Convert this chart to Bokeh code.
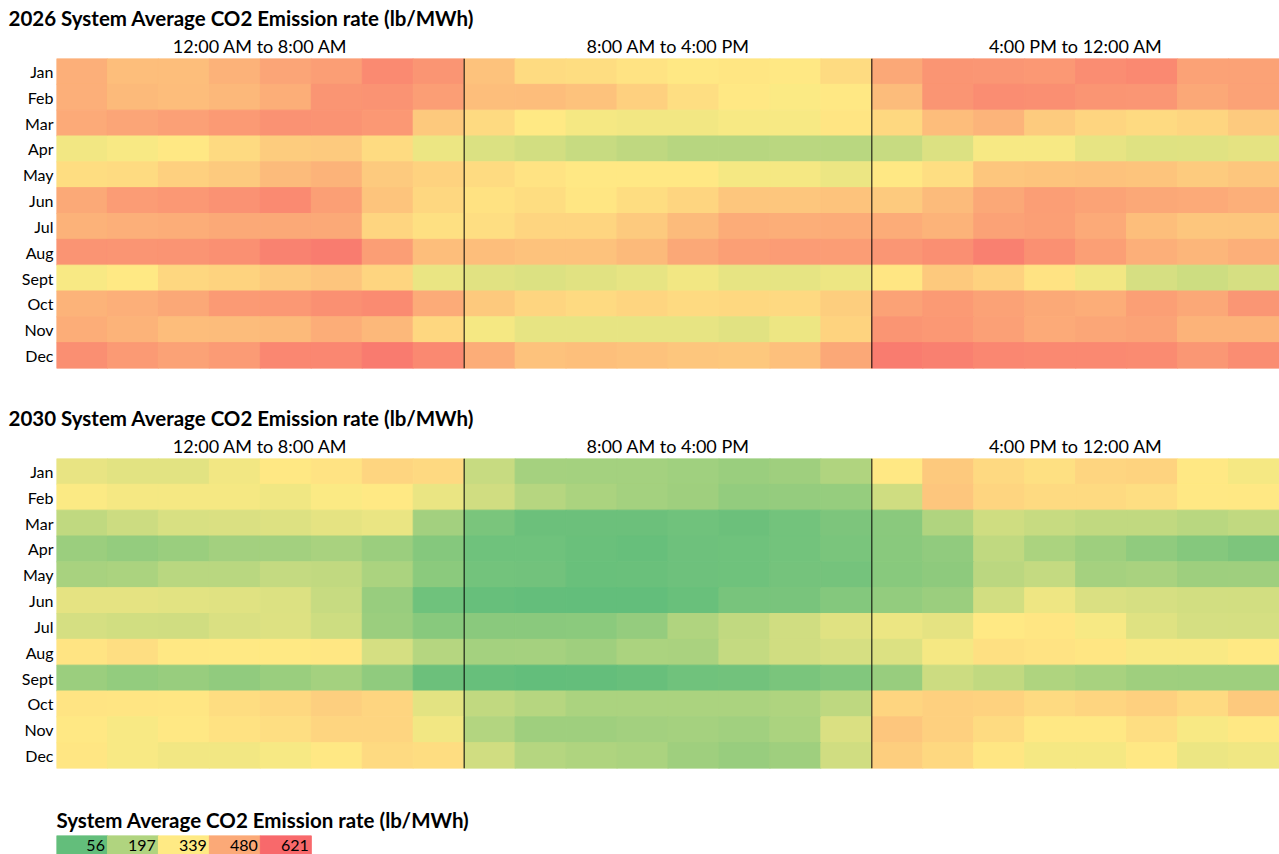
import numpy as np
from bokeh.plotting import figure
from bokeh.models import (LinearColorMapper, Range1d, FactorRange, Span, LinearAxis,
                          FixedTicker, ColumnDataSource)
from bokeh.transform import transform
from bokeh.layouts import column
from bokeh.embed import file_html
from bokeh.resources import INLINE
from bokeh.core.properties import value

# ---------------- data ----------------
months = ["Jan", "Feb", "Mar", "Apr", "May", "Jun", "Jul", "Aug", "Sept", "Oct", "Nov", "Dec"]
hours = list(range(24))
periods = ["12:00 AM to 8:00 AM", "8:00 AM to 4:00 PM", "4:00 PM to 12:00 AM"]
period_centers = [4, 12, 20]
legend_values = [56, 197, 339, 480, 621]

rates_2026 = [
    [467, 437, 437, 460, 490, 505, 549, 525, 428, 372, 368, 355, 345, 348, 345, 372, 484, 525, 522, 518, 542, 552, 497, 497],
    [467, 445, 440, 450, 470, 525, 530, 505, 437, 440, 428, 398, 365, 343, 330, 343, 442, 525, 543, 538, 525, 522, 484, 497],
    [478, 490, 500, 515, 532, 530, 518, 413, 376, 342, 320, 316, 316, 325, 324, 350, 380, 440, 456, 408, 385, 374, 385, 410],
    [315, 327, 345, 376, 405, 410, 372, 305, 274, 259, 237, 222, 210, 210, 214, 212, 238, 276, 325, 325, 295, 279, 282, 290],
    [368, 372, 398, 410, 443, 458, 410, 393, 372, 355, 343, 345, 345, 320, 320, 304, 343, 365, 418, 424, 428, 424, 408, 418],
    [480, 510, 518, 532, 549, 503, 424, 382, 358, 368, 348, 368, 387, 418, 418, 426, 410, 443, 484, 505, 493, 484, 478, 467],
    [462, 467, 472, 480, 480, 480, 387, 362, 365, 385, 387, 410, 443, 475, 470, 474, 475, 458, 497, 503, 478, 437, 418, 418],
    [528, 525, 528, 535, 565, 578, 505, 437, 437, 428, 428, 445, 484, 503, 510, 508, 522, 538, 570, 535, 503, 467, 453, 467],
    [327, 342, 382, 390, 408, 422, 385, 300, 284, 276, 284, 295, 316, 295, 293, 307, 348, 413, 393, 355, 316, 265, 250, 265],
    [458, 467, 484, 515, 518, 535, 547, 477, 413, 385, 376, 385, 376, 380, 378, 402, 497, 515, 497, 480, 472, 503, 484, 522],
    [472, 458, 440, 442, 446, 472, 450, 382, 320, 295, 295, 295, 295, 284, 307, 390, 525, 518, 500, 478, 487, 493, 458, 458],
    [538, 515, 497, 512, 556, 556, 580, 552, 472, 428, 435, 428, 418, 415, 432, 484, 578, 570, 556, 552, 552, 547, 520, 542],
]

rates_2030 = [
    [297, 287, 287, 316, 343, 355, 385, 378, 238, 176, 174, 175, 168, 156, 166, 197, 343, 413, 378, 362, 385, 390, 343, 320],
    [330, 320, 320, 320, 312, 330, 342, 299, 254, 208, 188, 175, 166, 143, 147, 150, 252, 418, 387, 376, 376, 365, 343, 343],
    [224, 247, 269, 271, 277, 291, 299, 172, 98, 72, 72, 72, 81, 72, 85, 103, 127, 197, 252, 237, 226, 226, 212, 226],
    [159, 145, 156, 172, 172, 183, 158, 120, 79, 79, 70, 63, 76, 79, 85, 99, 125, 140, 224, 187, 163, 138, 120, 104],
    [181, 187, 212, 212, 232, 226, 187, 129, 85, 83, 68, 70, 77, 79, 90, 90, 124, 134, 217, 232, 176, 183, 163, 166],
    [291, 291, 286, 282, 275, 237, 152, 80, 63, 60, 58, 58, 68, 94, 96, 117, 143, 159, 259, 309, 271, 265, 257, 257],
    [263, 255, 254, 271, 277, 250, 158, 124, 127, 127, 129, 147, 197, 228, 254, 282, 304, 290, 341, 348, 325, 279, 263, 263],
    [352, 365, 345, 341, 341, 346, 263, 206, 174, 176, 166, 187, 185, 232, 254, 265, 275, 320, 362, 355, 348, 329, 329, 341],
    [158, 143, 152, 140, 156, 174, 138, 72, 63, 58, 60, 65, 81, 83, 98, 113, 152, 247, 226, 194, 181, 166, 163, 163],
    [352, 350, 348, 368, 380, 400, 385, 289, 226, 208, 187, 188, 187, 188, 195, 221, 385, 398, 393, 374, 385, 396, 374, 413],
    [343, 327, 343, 358, 365, 387, 385, 316, 201, 166, 166, 172, 176, 170, 187, 271, 418, 398, 372, 343, 343, 365, 327, 345],
    [348, 327, 316, 316, 324, 343, 376, 368, 254, 206, 194, 187, 166, 152, 166, 254, 402, 380, 348, 320, 320, 343, 304, 312],
]

# ---------------- colour scale (green - yellow - red) ----------------
def _interp(c1, c2, t):
    return tuple(int(round(a + (b - a) * t)) for a, b in zip(c1, c2))

_green, _yellow, _red = (99, 190, 123), (255, 235, 132), (248, 105, 107)
palette = []
for i in range(256):
    t = i / 255
    c = _interp(_green, _yellow, t * 2) if t <= 0.5 else _interp(_yellow, _red, (t - 0.5) * 2)
    palette.append("#%02x%02x%02x" % c)
mapper = LinearColorMapper(palette=palette, low=min(legend_values), high=max(legend_values))

FONT = "Lato"
W = 1279
LEFT = 56


def heatmap(year, rates, border_bottom):
    xs, ys, vs = [], [], []
    for m, row in zip(months, rates):
        for h, v in zip(hours, row):
            xs.append(h + 0.5)
            ys.append(m)
            vs.append(v)
    src = ColumnDataSource(dict(x=xs, y=ys, v=vs))
    p = figure(width=W, height=58 + 310 + border_bottom,
               x_range=Range1d(0, 24), y_range=FactorRange(*reversed(months)),
               output_backend="svg", toolbar_location=None, x_axis_location=None,
               min_border_left=LEFT, min_border_right=0, min_border_top=58,
               min_border_bottom=border_bottom)
    p.rect(x="x", y="y", width=1, height=1, source=src,
           fill_color=transform("v", mapper), line_color=transform("v", mapper), line_width=1)
    for b in (8, 16):
        p.add_layout(Span(location=b, dimension="height", line_color="black", line_width=1))
    top = LinearAxis(ticker=FixedTicker(ticks=period_centers),
                     major_label_overrides={c: t for c, t in zip(period_centers, periods)})
    top.axis_line_color = None
    top.major_tick_line_color = None
    top.minor_tick_line_color = None
    top.major_tick_out = 0
    top.major_tick_in = 0
    top.minor_tick_out = 0
    top.minor_tick_in = 0
    top.major_label_text_font = FONT
    top.major_label_text_font_size = "18px"
    top.major_label_text_color = "black"
    top.major_label_standoff = 2
    p.add_layout(top, "above")
    ya = p.yaxis[0]
    ya.axis_line_color = None
    ya.major_tick_line_color = None
    ya.major_tick_out = 0
    ya.major_tick_in = 0
    ya.major_label_text_font = FONT
    ya.major_label_text_font_size = "16px"
    ya.major_label_text_color = "black"
    ya.major_label_standoff = 3
    p.grid.grid_line_color = None
    p.outline_line_color = None
    p.title.text = f"{year} System Average CO2 Emission rate (lb/MWh)"
    p.title.text_font = FONT
    p.title.text_font_size = "20.5px"
    p.title.text_font_style = "bold"
    p.title.text_color = "black"
    p.title.align = "left"
    p.title.offset = -48
    p.title.standoff = 4
    return p


p1 = heatmap(2026, rates_2026, 32)
p2 = heatmap(2030, rates_2030, 30)

# legend strip
leg_src = ColumnDataSource(dict(x=[i + 0.5 for i in range(len(legend_values))],
                                tx=[i + 0.95 for i in range(len(legend_values))],
                                v=legend_values,
                                t=[str(v) for v in legend_values]))
p3 = figure(width=W, height=37 + 19, x_range=Range1d(0, 24), y_range=Range1d(0, 1),
            output_backend="svg", toolbar_location=None,
            x_axis_location=None, y_axis_location=None,
            min_border_left=LEFT, min_border_right=0, min_border_top=37, min_border_bottom=0)
p3.rect(x="x", y=0.5, width=1, height=1, source=leg_src,
        fill_color=transform("v", mapper), line_color=transform("v", mapper))
p3.text(x="tx", y=0.45, text="t", source=leg_src, text_align="right", text_baseline="middle",
        text_font=value(FONT), text_font_size="16px", text_color="black")
p3.grid.grid_line_color = None
p3.outline_line_color = None
p3.title.text = "System Average CO2 Emission rate (lb/MWh)"
p3.title.text_font = FONT
p3.title.text_font_size = "20.5px"
p3.title.text_font_style = "bold"
p3.title.text_color = "black"
p3.title.align = "left"
p3.title.standoff = 7

layout = column(p1, p2, p3, spacing=0)
open("out.html", "w").write(file_html(layout, INLINE))
